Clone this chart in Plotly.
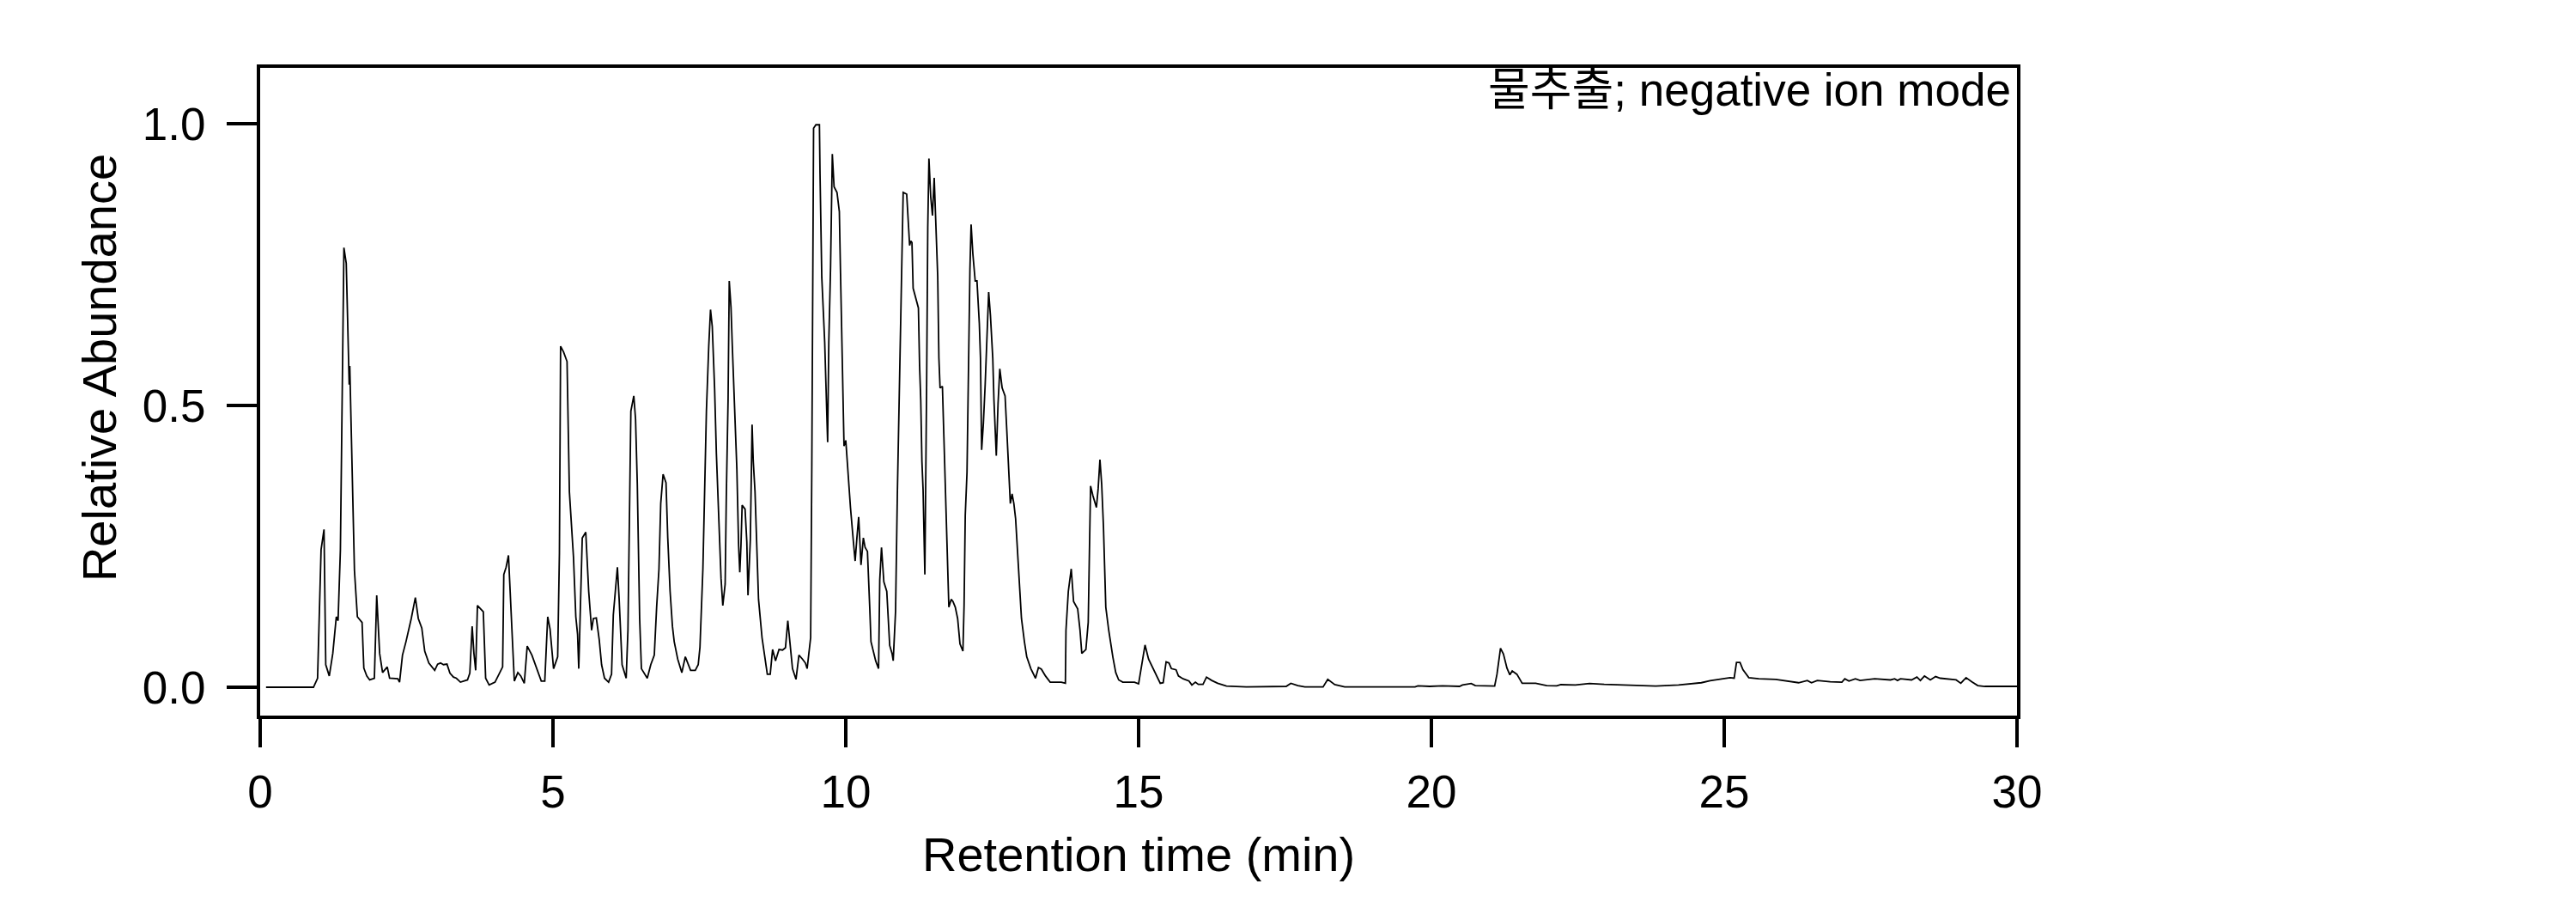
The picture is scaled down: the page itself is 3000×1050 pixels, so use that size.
import plotly.graph_objects as go

# total ion chromatogram, split by retention-time window
t_a = [0.10, 0.91, 0.98, 1.01, 1.04, 1.09, 1.12, 1.18, 1.24, 1.30, 1.33, 1.37, 1.39, 1.41, 1.43,
       1.47, 1.50, 1.52, 1.53, 1.58, 1.61, 1.66, 1.74, 1.77, 1.82, 1.87, 1.95, 1.97, 1.99, 2.04,
       2.09, 2.17, 2.21, 2.35, 2.38, 2.43, 2.49, 2.58, 2.65, 2.70, 2.76, 2.81, 2.88, 2.98, 3.03,
       3.08, 3.13, 3.19, 3.24, 3.30, 3.35, 3.42, 3.47, 3.54, 3.58, 3.62, 3.65, 3.68, 3.71, 3.76,
       3.81, 3.85, 3.91, 4.01, 4.08, 4.14, 4.16, 4.20, 4.24, 4.28, 4.34, 4.40, 4.45, 4.51, 4.56,
       4.64, 4.73, 4.80, 4.86, 4.91, 4.95, 5.01, 5.08, 5.11, 5.12, 5.13, 5.18, 5.24, 5.28, 5.35,
       5.39, 5.42, 5.44, 5.47, 5.50, 5.56, 5.61, 5.66, 5.69, 5.74]
ab_a = [0, 0, 0.016, 0.142, 0.244, 0.28, 0.04, 0.02, 0.06, 0.125, 0.118, 0.244, 0.462, 0.626, 0.78,
        0.752, 0.609, 0.537, 0.57, 0.34, 0.207, 0.125, 0.115, 0.034, 0.02, 0.013, 0.016, 0.088, 0.163, 0.06,
        0.026, 0.036, 0.016, 0.015, 0.009, 0.057, 0.081, 0.122, 0.159, 0.122, 0.105, 0.064, 0.043, 0.03, 0.041,
        0.043, 0.04, 0.041, 0.025, 0.018, 0.016, 0.009, 0.011, 0.013, 0.025, 0.108, 0.06, 0.03, 0.145, 0.139,
        0.134, 0.016, 0.004, 0.009, 0.023, 0.036, 0.2, 0.213, 0.234, 0.142, 0.011, 0.026, 0.02, 0.007, 0.073,
        0.057, 0.03, 0.011, 0.011, 0.125, 0.103, 0.033, 0.054, 0.238, 0.421, 0.605, 0.595, 0.578, 0.347, 0.231,
        0.125, 0.094, 0.033, 0.149, 0.265, 0.275, 0.17, 0.101, 0.122, 0.123]

t_b = [5.79, 5.83, 5.88, 5.95, 6.00, 6.03, 6.07, 6.10, 6.13, 6.18, 6.25, 6.28, 6.30, 6.33, 6.38,
       6.41, 6.44, 6.46, 6.48, 6.51, 6.61, 6.67, 6.73, 6.77, 6.81, 6.84, 6.88, 6.93, 6.96, 7.00,
       7.04, 7.07, 7.13, 7.20, 7.26, 7.35, 7.43, 7.48, 7.51, 7.56, 7.59, 7.62, 7.66, 7.69, 7.72,
       7.76, 7.79, 7.83, 7.87, 7.90, 7.94, 7.96, 7.99, 8.01, 8.04, 8.06, 8.10, 8.14, 8.17, 8.19,
       8.21, 8.23, 8.28, 8.31, 8.33, 8.37, 8.40, 8.42, 8.45, 8.48, 8.51, 8.57, 8.61, 8.66, 8.71,
       8.75, 8.80, 8.86, 8.92, 8.97, 9.01, 9.06, 9.09, 9.15, 9.20, 9.26, 9.31, 9.34, 9.40, 9.42,
       9.43, 9.45, 9.49, 9.55, 9.56, 9.59, 9.64, 9.67, 9.69, 9.71, 9.74, 9.77, 9.80, 9.85, 9.89,
       9.91, 9.95, 9.97, 10.00, 10.04, 10.08, 10.13, 10.16, 10.19, 10.22, 10.26, 10.30, 10.33, 10.37, 10.41,
       10.43, 10.51, 10.56, 10.58, 10.61, 10.65, 10.70, 10.75, 10.79, 10.81, 10.85, 10.88, 10.91]
ab_b = [0.084, 0.04, 0.016, 0.009, 0.023, 0.128, 0.18, 0.213, 0.156, 0.04, 0.016, 0.101, 0.258, 0.49, 0.517,
        0.476, 0.36, 0.231, 0.122, 0.033, 0.016, 0.04, 0.057, 0.142, 0.21, 0.326, 0.378, 0.363, 0.265, 0.17,
        0.108, 0.081, 0.05, 0.026, 0.054, 0.03, 0.03, 0.04, 0.071, 0.21, 0.347, 0.49, 0.605, 0.67, 0.64,
        0.53, 0.415, 0.305, 0.193, 0.145, 0.183, 0.34, 0.51, 0.721, 0.674, 0.612, 0.51, 0.387, 0.251, 0.204,
        0.251, 0.323, 0.316, 0.258, 0.163, 0.261, 0.466, 0.401, 0.347, 0.258, 0.156, 0.088, 0.06, 0.023, 0.023,
        0.067, 0.047, 0.067, 0.066, 0.07, 0.118, 0.067, 0.033, 0.014, 0.057, 0.05, 0.043, 0.033, 0.088, 0.394,
        0.69, 0.992, 0.998, 0.998, 0.912, 0.728, 0.612, 0.51, 0.435, 0.612, 0.745, 0.946, 0.888, 0.878, 0.844,
        0.735, 0.496, 0.428, 0.438, 0.374, 0.319, 0.258, 0.224, 0.265, 0.302, 0.217, 0.265, 0.248, 0.241, 0.139,
        0.081, 0.047, 0.033, 0.19, 0.248, 0.187, 0.17, 0.074, 0.06, 0.047, 0.135, 0.34, 0.51]

t_c = [10.94, 10.96, 10.98, 11.04, 11.07, 11.09, 11.11, 11.13, 11.15, 11.20, 11.24, 11.26, 11.28, 11.30, 11.32,
       11.35, 11.36, 11.38, 11.40, 11.42, 11.45, 11.48, 11.51, 11.54, 11.57, 11.59, 11.61, 11.65, 11.68, 11.70,
       11.73, 11.76, 11.80, 11.83, 11.87, 11.91, 11.95, 12.00, 12.02, 12.04, 12.07, 12.09, 12.12, 12.14, 12.17,
       12.21, 12.24, 12.28, 12.30, 12.32, 12.35, 12.38, 12.41, 12.44, 12.47, 12.51, 12.53, 12.57, 12.60, 12.63,
       12.67, 12.72, 12.75, 12.78, 12.81, 12.84, 12.87, 12.90, 12.93, 12.96, 13.00, 13.05, 13.09, 13.16, 13.24,
       13.29, 13.34, 13.41, 13.49, 13.58, 13.68, 13.75, 13.76, 13.80, 13.85, 13.89, 13.96, 14.00, 14.03, 14.10,
       14.14, 14.16, 14.18, 14.22, 14.28, 14.31, 14.34, 14.37, 14.40, 14.44, 14.49, 14.56, 14.61, 14.66, 14.73,
       14.83, 14.93, 15.00, 15.05, 15.11, 15.17, 15.25, 15.32, 15.37, 15.42, 15.47, 15.52, 15.56, 15.64, 15.68,
       15.76, 15.86]
ab_c = [0.667, 0.769, 0.878, 0.875, 0.823, 0.784, 0.792, 0.789, 0.708, 0.69, 0.673, 0.571, 0.51, 0.401, 0.35,
        0.2, 0.367, 0.531, 0.816, 0.938, 0.871, 0.837, 0.904, 0.823, 0.728, 0.584, 0.531, 0.534, 0.421, 0.36,
        0.231, 0.142, 0.156, 0.152, 0.142, 0.122, 0.077, 0.064, 0.145, 0.305, 0.381, 0.537, 0.741, 0.821, 0.769,
        0.721, 0.721, 0.646, 0.584, 0.421, 0.469, 0.537, 0.632, 0.701, 0.66, 0.584, 0.51, 0.411, 0.503, 0.565,
        0.531, 0.517, 0.455, 0.394, 0.326, 0.343, 0.326, 0.299, 0.251, 0.19, 0.122, 0.081, 0.054, 0.033, 0.016,
        0.035, 0.032, 0.02, 0.009, 0.009, 0.009, 0.007, 0.101, 0.17, 0.21, 0.152, 0.139, 0.101, 0.06, 0.067,
        0.115, 0.238, 0.357, 0.34, 0.319, 0.353, 0.404, 0.36, 0.285, 0.142, 0.101, 0.054, 0.026, 0.013, 0.009,
        0.009, 0.009, 0.006, 0.04, 0.075, 0.05, 0.033, 0.016, 0.007, 0.008, 0.045, 0.043, 0.033, 0.031, 0.02,
        0.015, 0.011]

t_d = [15.91, 15.97, 16.02, 16.10, 16.16, 16.25, 16.35, 16.50, 16.84, 17.25, 17.52, 17.60, 17.72, 17.84,
       18.15, 18.23, 18.35, 18.52, 19.72, 19.77, 19.97, 20.19, 20.48, 20.53, 20.68, 20.75, 21.08, 21.12,
       21.18, 21.23, 21.29, 21.34, 21.38, 21.46, 21.55, 21.78, 21.97, 22.14, 22.21, 22.46, 22.70, 22.95]
ab_d = [0.004, 0.009, 0.005, 0.005, 0.018, 0.012, 0.007, 0.002, 0.0005, 0.0005, 0.0015, 0.007, 0.003, 0.0005,
        0.0005, 0.014, 0.0046, 0.0005, 0.0005, 0.0025, 0.0015, 0.0025, 0.0015, 0.004, 0.0066, 0.003, 0.002, 0.023,
        0.069, 0.059, 0.034, 0.022, 0.029, 0.023, 0.007, 0.007, 0.003, 0.0025, 0.0046, 0.004, 0.0066, 0.005]

t_e = [23.19, 23.44, 23.83, 24.22, 24.42, 24.61, 24.76, 24.91, 25.10, 25.17, 25.21, 25.27, 25.32, 25.42,
       25.59, 25.88, 26.08, 26.27, 26.42, 26.49, 26.59, 26.81, 27.01, 27.06, 27.13, 27.24, 27.32, 27.57,
       27.84, 27.91, 27.96, 28.01, 28.20, 28.29, 28.35, 28.42, 28.52, 28.61, 28.69, 28.96, 29.04, 29.13,
       29.23, 29.33, 29.45, 30.00]
ab_e = [0.004, 0.004, 0.002, 0.004, 0.0056, 0.008, 0.0117, 0.014, 0.017, 0.016, 0.044, 0.044, 0.031, 0.017,
        0.015, 0.014, 0.011, 0.008, 0.012, 0.008, 0.012, 0.0097, 0.009, 0.015, 0.011, 0.015, 0.012, 0.015,
        0.013, 0.015, 0.012, 0.015, 0.013, 0.018, 0.012, 0.02, 0.013, 0.019, 0.016, 0.013, 0.007, 0.017,
        0.0097, 0.003, 0.0015, 0.0015]

time_min = t_a + t_b + t_c + t_d + t_e
abundance = ab_a + ab_b + ab_c + ab_d + ab_e
assert len(time_min) == len(abundance)

x_ticks = [0, 5, 10, 15, 20, 25, 30]
y_ticks = [0, 0.5, 1.0]
y_tick_text = ["0.0", "0.5", "1.0"]

FONT = "Liberation Sans, Arial, Noto Sans CJK KR, sans-serif"

fig = go.Figure()
fig.add_trace(go.Scatter(x=time_min, y=abundance, mode="lines",
                         line=dict(color="black", width=1.8), showlegend=False))

axis_style = dict(showline=True, linecolor="black", linewidth=4, mirror=True,
                  ticks="outside", tickwidth=4, tickcolor="black",
                  showgrid=False, zeroline=False,
                  tickfont=dict(family=FONT, size=53, color="black"))

fig.update_xaxes(range=[0, 30], tickvals=x_ticks, ticklen=33, ticklabelstandoff=6, **axis_style)
fig.update_yaxes(range=[-0.0503, 1.099], tickvals=y_ticks, ticktext=y_tick_text,
                 ticklen=35, ticklabelstandoff=14, **axis_style)

fig.add_annotation(text="Retention time (min)", x=0.5, y=-0.2148, xref="paper", yref="paper",
                   showarrow=False, xanchor="center", yanchor="middle",
                   font=dict(family=FONT, size=56, color="black"))
fig.add_annotation(text="Relative Abundance", x=-0.0919, y=0.537, xref="paper", yref="paper",
                   showarrow=False, textangle=-90, xanchor="center", yanchor="middle",
                   font=dict(family=FONT, size=56, color="black"))
fig.add_annotation(text="물추출; negative ion mode", x=0.9976, y=0.9656, xref="paper", yref="paper",
                   showarrow=False, xanchor="right", yanchor="middle",
                   font=dict(family=FONT, size=53, color="black"))

fig.update_layout(width=3000, height=1050, plot_bgcolor="white", paper_bgcolor="white",
                  margin=dict(l=295, r=659, t=71, b=225))

fig.write_html("out.html")
